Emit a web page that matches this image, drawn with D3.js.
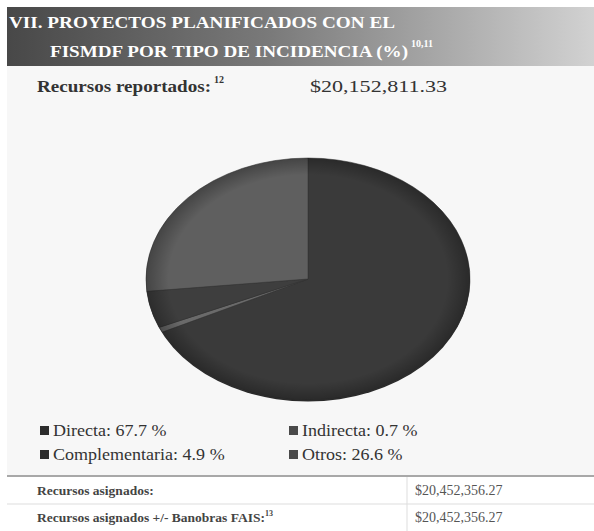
<!DOCTYPE html>
<html>
<head>
<meta charset="utf-8">
<script src="https://cdn.jsdelivr.net/npm/d3@7"></script>
<style>
  body { margin: 0; background: #ffffff; }
</style>
</head>
<body>
<div id="chart"></div>
<script>
const categories = ["Directa", "Indirecta", "Complementaria", "Otros"];
const values = [67.7, 0.7, 4.9, 26.6];
const sliceColors = ["#3a3a3a", "#6a6a6a", "#3e3e3e", "#5f5f5f"];
const titleLines = ["VII. PROYECTOS PLANIFICADOS CON EL", "FISMDF POR TIPO DE INCIDENCIA (%)"];
const reportedLabel = "Recursos reportados:";
const reportedValue = "$20,152,811.33";
const tableRows = [
  ["Recursos asignados:", "", "$20,452,356.27"],
  ["Recursos asignados +/- Banobras FAIS:", "13", "$20,452,356.27"]
];

const width = 594, height = 531;

let svg = d3.select("#chart")
  .append("svg")
  .attr("width", width)
  .attr("height", height)
  .attr("font-family", "'Liberation Serif', 'Times New Roman', 'DejaVu Serif', serif");

let defs = svg.append("defs");
let grad = defs.append("linearGradient")
  .attr("id", "hdr")
  .attr("x1", "0%").attr("x2", "100%");
grad.append("stop").attr("offset", "0%").attr("stop-color", "#484848");
grad.append("stop").attr("offset", "45%").attr("stop-color", "#7a7a7a");
grad.append("stop").attr("offset", "100%").attr("stop-color", "#d2d2d2");

let rim = defs.append("radialGradient").attr("id", "rim");
rim.append("stop").attr("offset", "0%").attr("stop-color", "#000").attr("stop-opacity", 0);
rim.append("stop").attr("offset", "86%").attr("stop-color", "#000").attr("stop-opacity", 0);
rim.append("stop").attr("offset", "100%").attr("stop-color", "#000").attr("stop-opacity", 0.28);

// chart background
svg.append("rect")
  .attr("x", 7).attr("y", 66)
  .attr("width", width - 7).attr("height", 410)
  .style("fill", "#f7f7f7");

// header
svg.append("rect")
  .attr("x", 7).attr("y", 7)
  .attr("width", width - 7).attr("height", 59)
  .style("fill", "url(#hdr)");

let title = svg.append("g")
  .style("fill", "#ffffff")
  .style("font-weight", "bold")
  .style("font-size", "17px");
title.append("text").attr("x", 9).attr("y", 28)
  .attr("textLength", 386).attr("lengthAdjust", "spacingAndGlyphs")
  .text(titleLines[0]);
title.append("text").attr("x", 50).attr("y", 57)
  .attr("textLength", 358).attr("lengthAdjust", "spacingAndGlyphs")
  .text(titleLines[1]);
title.append("text").attr("x", 411).attr("y", 47).style("font-size", "10px").text("10,11");

svg.append("text")
  .attr("x", 37).attr("y", 92)
  .attr("textLength", 174).attr("lengthAdjust", "spacingAndGlyphs")
  .style("font-weight", "bold").style("font-size", "17px").style("fill", "#333")
  .text(reportedLabel);
svg.append("text").attr("x", 214).attr("y", 83)
  .style("font-weight", "bold").style("font-size", "10px").style("fill", "#333").text("12");
svg.append("text")
  .attr("x", 310).attr("y", 92)
  .attr("textLength", 137).attr("lengthAdjust", "spacingAndGlyphs")
  .style("font-size", "17px").style("fill", "#333")
  .text(reportedValue);

// pie
const cx = 308, cy = 279, rx = 162, ry = 121;
let pie = d3.pie().sort(null).value(function(d) { return d; });
let arcs = pie(values);
let arc = d3.arc().innerRadius(0).outerRadius(rx);

let pieG = svg.append("g")
  .attr("transform", "translate(" + cx + "," + cy + ") scale(1," + (ry / rx) + ")");

// subtle shadow edge
pieG.append("ellipse")
  .attr("cx", 0).attr("cy", 2).attr("rx", rx).attr("ry", rx)
  .style("fill", "#2a2a2a");

pieG.selectAll("path.slice")
  .data(arcs)
  .enter()
  .append("path")
  .attr("class", "slice")
  .attr("d", arc)
  .style("fill", function(d, i) { return sliceColors[i]; })
  .style("stroke", "#333")
  .style("stroke-width", 0.6);

pieG.append("circle")
  .attr("r", rx)
  .style("fill", "url(#rim)");

// legend
let legend = svg.append("g").style("font-size", "17px").style("fill", "#333");
const legX = [40, 289], legY = [436, 460];
categories.forEach(function(c, i) {
  let x = legX[i % 2], y = legY[Math.floor(i / 2)];
  legend.append("rect")
    .attr("x", x).attr("y", y - 10)
    .attr("width", 9).attr("height", 9)
    .style("fill", i % 2 ? "#4a4a4a" : "#2c2c2c");
  let t = legend.append("text")
    .attr("x", x + 13).attr("y", y)
    .text(c + ": " + d3.format(".1f")(values[i]) + " %");
  let w = t.node().getComputedTextLength();
  t.attr("textLength", w * 1.06).attr("lengthAdjust", "spacingAndGlyphs");
});

// table
svg.append("rect").attr("x", 7).attr("y", 476).attr("width", width - 7).attr("height", 55)
  .style("fill", "#ffffff");
svg.append("line").attr("x1", 7).attr("x2", width).attr("y1", 476).attr("y2", 476)
  .style("stroke", "#a8a8a8").style("stroke-width", 2);
svg.append("line").attr("x1", 7).attr("x2", width).attr("y1", 504).attr("y2", 504)
  .style("stroke", "#dddddd").style("stroke-width", 1);
svg.append("line").attr("x1", 407).attr("x2", 407).attr("y1", 477).attr("y2", 531)
  .style("stroke", "#dddddd").style("stroke-width", 1);

tableRows.forEach(function(r, i) {
  let y = 495 + i * 27;
  let t = svg.append("text")
    .attr("x", 37).attr("y", y)
    .style("font-weight", "bold").style("font-size", "13.5px").style("fill", "#444")
    .text(r[0]);
  if (r[1]) t.append("tspan").attr("dy", -6).style("font-size", "8px").text(r[1]);
  svg.append("text")
    .attr("x", 415).attr("y", y)
    .style("font-size", "14px").style("fill", "#555")
    .text(r[2]);
});
</script>
</body>
</html>
